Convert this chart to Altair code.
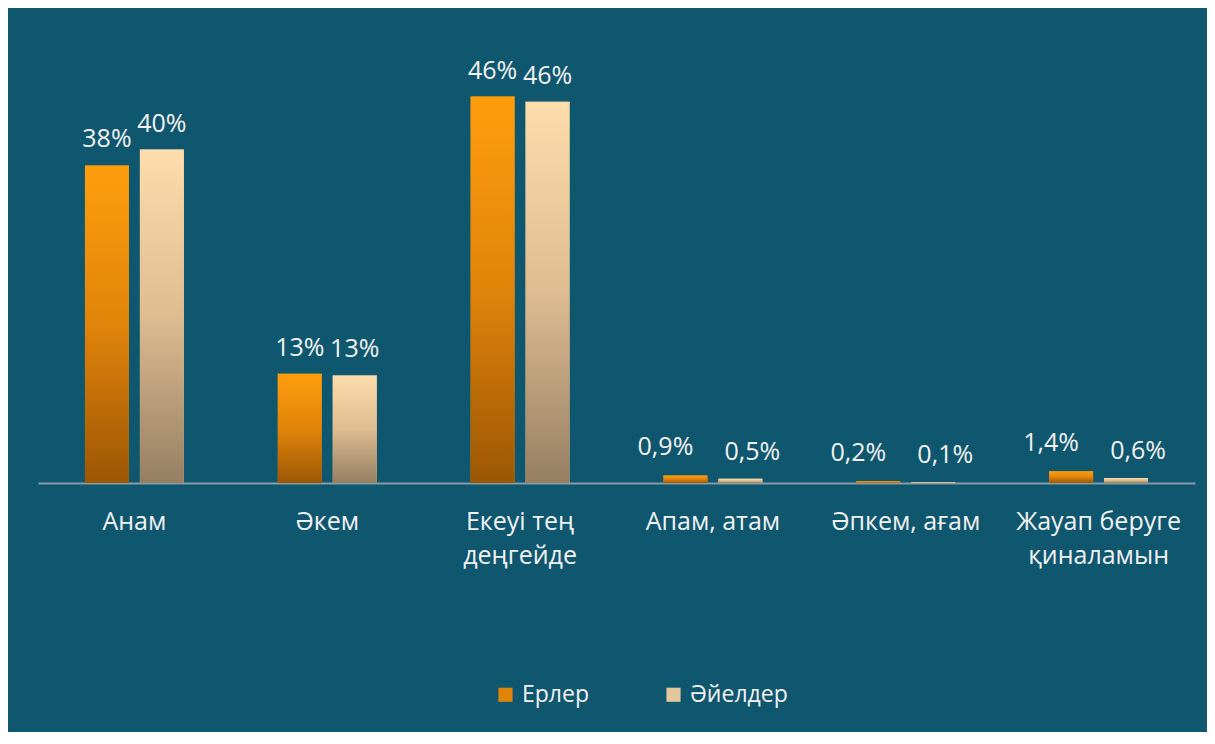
import altair as alt
import pandas as pd

categories = ["Анам", "Әкем", "Екеуі тең\nдеңгейде", "Апам, атам", "Әпкем, ағам", "Жауап беруге\nқиналамын"]
series = ["Ерлер", "Әйелдер"]
men_values = [37.8, 13.0, 46.0, 0.9, 0.2, 1.4]
women_values = [39.7, 12.8, 45.4, 0.5, 0.1, 0.6]
men_labels = ["38%", "13%", "46%", "0,9%", "0,2%", "1,4%"]
women_labels = ["40%", "13%", "46%", "0,5%", "0,1%", "0,6%"]

rows = []
for c, v, l in zip(categories, men_values, men_labels):
    rows.append({"cat": c, "s": series[0], "v": v, "lab": l})
for c, v, l in zip(categories, women_values, women_labels):
    rows.append({"cat": c, "s": series[1], "v": v, "lab": l})
df = pd.DataFrame(rows)

BG = "#0F566F"
FONT = "Open Sans"

xenc = alt.X("cat:N", sort=categories,
             scale=alt.Scale(paddingInner=0.487, paddingOuter=0.2435),
             axis=alt.Axis(title=None, ticks=False, domainColor="#8A9BA5", domainWidth=2,
                           labelColor="#F2F2F2", labelFontSize=25, labelFont=FONT,
                           labelAngle=0, labelPadding=26, labelLineHeight=34,
                           labelExpr="split(datum.label, '\\n')"))
xoff = alt.XOffset("s:N", sort=series,
                   scale=alt.Scale(domain=series, paddingInner=0.2, paddingOuter=0))
yenc = alt.Y("v:Q", scale=alt.Scale(domain=[0, 50]), axis=None)

base = alt.Chart(df)

legend_bars = base.mark_bar().encode(
    x=xenc, xOffset=xoff, y=yenc,
    color=alt.Color("s:N", sort=series,
                    scale=alt.Scale(domain=series, range=["#E0850A", "#E3C79C"]),
                    legend=alt.Legend(title=None, orient="none", legendX=456, legendY=620,
                                      direction="horizontal", symbolType="square",
                                      symbolSize=200, symbolStrokeWidth=0,
                                      labelColor="#F2F2F2", labelFontSize=23, labelFont=FONT,
                                      labelOffset=5, columnPadding=72))
)

grad_men = alt.Gradient(gradient="linear", x1=0, x2=0, y1=0, y2=1,
                        stops=[alt.GradientStop(color="#FF9E0C", offset=0),
                               alt.GradientStop(color="#E0840A", offset=0.5),
                               alt.GradientStop(color="#9C5704", offset=1)])
grad_women = alt.Gradient(gradient="linear", x1=0, x2=0, y1=0, y2=1,
                          stops=[alt.GradientStop(color="#FCDDAB", offset=0),
                                 alt.GradientStop(color="#DDBC90", offset=0.5),
                                 alt.GradientStop(color="#957F62", offset=1)])

men_bars = base.transform_filter(alt.datum.s == series[0]).mark_bar(fill=grad_men).encode(
    x=xenc, xOffset=xoff, y=yenc)
women_bars = base.transform_filter(alt.datum.s == series[1]).mark_bar(fill=grad_women).encode(
    x=xenc, xOffset=xoff, y=yenc)

text_style = dict(baseline="alphabetic", fontSize=25, font=FONT, color="#F2F2F2")
tenc = dict(x=xenc, xOffset=xoff, y=yenc, text="lab:N")

labels_big = base.transform_filter(alt.datum.v >= 5).mark_text(dy=-18, **text_style).encode(**tenc)
labels_small_m = base.transform_filter((alt.datum.v < 5) & (alt.datum.s == series[0])).mark_text(
    dy=-20, dx=-20, **text_style).encode(**tenc)
labels_small_w = base.transform_filter((alt.datum.v < 5) & (alt.datum.s == series[1])).mark_text(
    dy=-19, dx=12, **text_style).encode(**tenc)

chart = alt.layer(legend_bars, men_bars, women_bars, labels_big, labels_small_m, labels_small_w).properties(
    width=1157, height=420,
    autosize=alt.AutoSizeParams(type="none"),
    padding={"left": 30, "right": 12, "top": 55, "bottom": 249},
    background=BG,
).configure_view(stroke=None)

chart.save("out.html", embed_options={"renderer": "svg", "actions": False})
